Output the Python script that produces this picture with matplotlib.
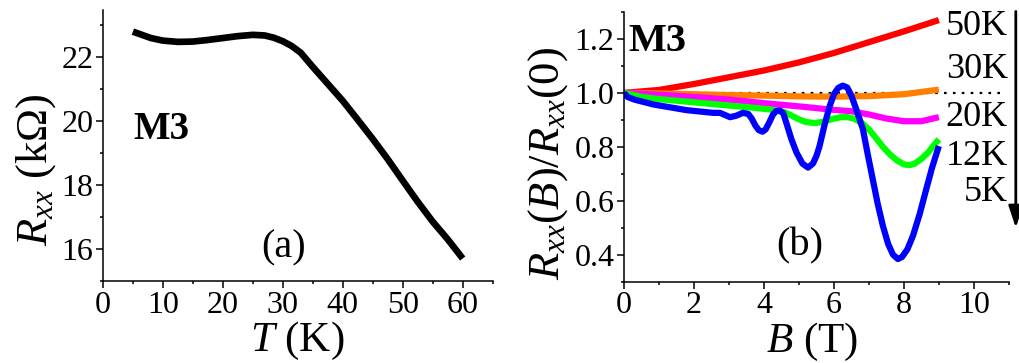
import numpy as np
import matplotlib
matplotlib.use('Agg')
import matplotlib.pyplot as plt
from matplotlib.ticker import MultipleLocator, FormatStrFormatter

plt.rcParams['font.family'] = ['Liberation Serif', 'DejaVu Serif']
plt.rcParams['mathtext.fontset'] = 'custom'
plt.rcParams['mathtext.rm'] = 'Liberation Serif'
plt.rcParams['mathtext.it'] = 'Liberation Serif:italic'
plt.rcParams['mathtext.bf'] = 'Liberation Serif:bold'

# (a) R_xx vs T
T = [5, 6.5, 8, 10, 12.5, 15, 17.5, 20, 22.5, 25, 27, 28.5, 30, 31.5, 33, 35,
     37.5, 40, 42.5, 45, 47.5, 50, 52.5, 55, 57.5, 60]
R = [22.78, 22.68, 22.58, 22.5, 22.46, 22.47, 22.52, 22.58, 22.64, 22.68, 22.66,
     22.59, 22.48, 22.33, 22.12, 21.68, 21.15, 20.62, 20.03, 19.43, 18.8, 18.13,
     17.47, 16.85, 16.3, 15.7]

# (b) normalised magnetoresistance
B_50 = [0, 1, 2, 3, 4, 5, 6, 7, 8, 9]
r_50 = [1.0, 1.011, 1.033, 1.058, 1.083, 1.113, 1.148, 1.188, 1.228, 1.27]

B_30 = [0, 1, 2, 3, 4, 5, 6, 7, 8, 9]
r_30 = [1.0, 0.998, 0.995, 0.992, 0.99, 0.987, 0.986, 0.988, 0.995, 1.012]

B_20 = [0, 1, 2, 3, 4, 5, 6, 6.5, 7, 7.5, 8, 8.5, 9]
r_20 = [1.0, 0.993, 0.985, 0.975, 0.962, 0.95, 0.937, 0.932, 0.92, 0.905, 0.895,
        0.895, 0.91]

B_12 = [0, 0.5, 1, 2, 3, 3.7, 4.2, 4.6, 4.8, 5.0, 5.2, 5.45, 5.7, 5.95, 6.2, 6.4,
        6.6, 6.8, 7.0, 7.2, 7.4, 7.6, 7.8, 8.0, 8.15, 8.3, 8.5, 8.7, 8.85, 9]
r_12 = [1.0, 0.985, 0.977, 0.965, 0.953, 0.945, 0.938, 0.928, 0.915, 0.902, 0.892,
        0.888, 0.893, 0.903, 0.91, 0.91, 0.903, 0.888, 0.865, 0.833, 0.8, 0.772,
        0.75, 0.735, 0.732, 0.737, 0.755, 0.78, 0.805, 0.828]

B_5 = [0, 0.1, 0.3, 0.84, 1.79, 2.55, 2.74, 2.85, 3.03, 3.2, 3.4, 3.55, 3.65,
       3.75, 3.85, 3.96, 4.05, 4.15, 4.26, 4.35, 4.45, 4.55, 4.64, 4.78, 4.93,
       5.1, 5.26, 5.4, 5.5, 5.59, 5.73, 5.88, 6.0, 6.12, 6.25, 6.38, 6.5, 6.65,
       6.83, 6.97, 7.11, 7.25, 7.4, 7.55, 7.69, 7.83, 7.95, 8.1, 8.26, 8.45, 8.64,
       8.8, 9]
r_5 = [1.0, 0.985, 0.975, 0.957, 0.936, 0.926, 0.926, 0.92, 0.91, 0.915, 0.926,
       0.922, 0.905, 0.88, 0.862, 0.856, 0.865, 0.89, 0.92, 0.933, 0.935, 0.925,
       0.889, 0.83, 0.779, 0.738, 0.723, 0.738, 0.766, 0.803, 0.88, 0.951, 0.995,
       1.018, 1.027, 1.02, 0.99, 0.935, 0.865, 0.77, 0.68, 0.59, 0.507, 0.44, 0.4,
       0.384, 0.392, 0.42, 0.47, 0.55, 0.643, 0.72, 0.803]

series = [(B_50, r_50, '#ff0000', '50K'), (B_30, r_30, '#ff8000', '30K'),
          (B_20, r_20, '#ff00ff', '20K'), (B_12, r_12, '#00ff00', '12K'),
          (B_5, r_5, '#0000ff', '5K')]
label_y = [1.247, 1.087, 0.908, 0.766, 0.632]

fig = plt.figure(figsize=(10.19, 3.63), dpi=100)


def style_axes(ax):
    for s in ['top', 'right']:
        ax.spines[s].set_visible(False)
    for s in ['left', 'bottom']:
        ax.spines[s].set_linewidth(1.1)
    ax.tick_params(which='major', direction='out', length=5, width=1.1,
                   labelsize=23, pad=2)
    ax.tick_params(which='minor', direction='out', length=2.5, width=1.1)


ax1 = fig.add_axes([0.101, 0.226, 0.3825, 0.746])
ax1.plot(T, R, color='k', lw=4.8, solid_capstyle='butt', solid_joinstyle='round')
ax1.set_xlim(0, 65)
ax1.set_ylim(15, 23.45)
ax1.xaxis.set_major_locator(MultipleLocator(10))
ax1.xaxis.set_minor_locator(MultipleLocator(5))
ax1.yaxis.set_major_locator(MultipleLocator(2))
ax1.yaxis.set_minor_locator(MultipleLocator(1))
style_axes(ax1)
ax1.set_xlabel('$T$ (K)', fontsize=31)
ax1.set_ylabel('$R_{xx}$ (k\u03a9)', fontsize=32)
ax1.xaxis.set_label_coords(0.498, -0.145)
ax1.yaxis.set_label_coords(-0.115, 0.41)
ax1.text(5.0, 19.74, 'M3', fontsize=28, fontweight='bold', va='center', ha='left')
ax1.text(30.2, 16.02, '(a)', fontsize=29, va='center', ha='center')

ax2 = fig.add_axes([0.6124, 0.224, 0.3776, 0.743])
ax2.axhline(1.0, xmin=0, xmax=0.985, color='k', lw=1.6, ls=(0, (1.2, 2.8)), zorder=1)
for b, r, c, lab in series:
    ax2.plot(b, r, color=c, lw=4.5, solid_capstyle='butt', solid_joinstyle='round',
             zorder=2)
for (b, r, c, lab), ly in zip(series, label_y):
    ax2.text(10.97, ly, lab, fontsize=26, ha='right', va='center')
ax2.set_xlim(0, 11)
ax2.set_ylim(0.3, 1.3)
ax2.xaxis.set_major_locator(MultipleLocator(2))
ax2.xaxis.set_minor_locator(MultipleLocator(1))
ax2.yaxis.set_major_locator(MultipleLocator(0.2))
ax2.yaxis.set_minor_locator(MultipleLocator(0.1))
ax2.yaxis.set_major_formatter(FormatStrFormatter('%.1f'))
style_axes(ax2)
ax2.set_xlabel('$B$ (T)', fontsize=31)
ax2.set_ylabel('$R_{xx}(B)/R_{xx}(0)$', fontsize=32)
ax2.xaxis.set_label_coords(0.4875, -0.145)
ax2.yaxis.set_label_coords(-0.14, 0.44)
ax2.text(0.11, 1.19, 'M3', fontsize=29, fontweight='bold', va='center', ha='left')
ax2.text(5.03, 0.432, '(b)', fontsize=29, va='center', ha='center')
ax2.annotate('', xy=(11.2, 0.5), xytext=(11.2, 1.302),
             arrowprops=dict(arrowstyle='-|>,head_length=0.6,head_width=0.2', lw=2,
                             color='k', mutation_scale=22, shrinkA=0, shrinkB=0),
             annotation_clip=False)

fig.savefig('out.png', dpi=100)
